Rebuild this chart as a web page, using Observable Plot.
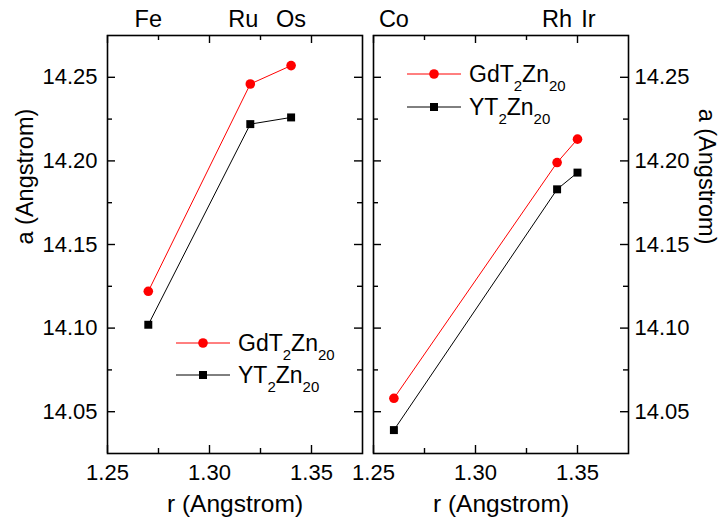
<!DOCTYPE html>
<html><head><meta charset="utf-8">
<script src="https://cdn.jsdelivr.net/npm/d3@7"></script>
<script src="https://cdn.jsdelivr.net/npm/@observablehq/plot@0.6"></script>
<style>
body{margin:0;background:#fff;}
#chart{position:relative;width:721px;height:525px;}
#chart svg{position:absolute;left:0;top:0;}
</style></head><body><div id="chart"></div>
<script>
// ---- data ----
const seriesNames = ["GdT2Zn20", "YT2Zn20"];
const seriesColors = ["#ff0000", "#000000"];
const seriesSymbols = ["circle", "square"];

const leftElements = ["Fe", "Ru", "Os"];
const leftR = [1.27, 1.32, 1.34];
const leftGd = [14.122, 14.246, 14.257];
const leftY = [14.102, 14.222, 14.226];

const rightElements = ["Co", "Rh", "Ir"];
const rightR = [1.26, 1.34, 1.35];
const rightGd = [14.058, 14.199, 14.213];
const rightY = [14.039, 14.183, 14.193];

const xMajorTicks = [1.25, 1.30, 1.35];
const xMinorTicks = [1.275, 1.325];
const yMajorTicks = [14.05, 14.10, 14.15, 14.20, 14.25];
const yMinorTicks = [14.075, 14.125, 14.175, 14.225];
const xDomain = [1.25, 1.375];
const yDomain = [14.025, 14.275];
const xTitle = "r (Angstrom)";
const yTitle = "a (Angstrom)";

const FONT = "Arial, 'Liberation Sans', sans-serif";
const fmt = d3.format(".2f");

function rows(elements, r, gd, y) {
  const out = [];
  elements.forEach((e, i) => out.push({element: e, r: r[i], a: gd[i], series: seriesNames[0]}));
  elements.forEach((e, i) => out.push({element: e, r: r[i], a: y[i], series: seriesNames[1]}));
  return out;
}

// inward ticks on all four sides: short rules positioned through Plot's x/y scales
function inwardTicks() {
  const out = [];
  const st = {stroke: "black", strokeWidth: 1.4};
  for (const [vals, len] of [[xMajorTicks, 8], [xMinorTicks, 5]]) {
    out.push(Plot.ruleX(vals, {...st, insetTop: 418 - len}));     // bottom edge
    out.push(Plot.ruleX(vals, {...st, insetBottom: 418 - len}));  // top edge
  }
  return out;
}
function inwardTicksY(frameW) {
  const out = [];
  const st = {stroke: "black", strokeWidth: 1.4};
  for (const [vals, len] of [[yMajorTicks, 8], [yMinorTicks, 5]]) {
    out.push(Plot.ruleY(vals, {...st, insetRight: frameW - len}));  // left edge
    out.push(Plot.ruleY(vals, {...st, insetLeft: frameW - len}));   // right edge
  }
  return out;
}

function legendMark(x0, y0, step) {
  return () => {
    const g = d3.create("svg:g");
    seriesNames.forEach((name, i) => {
      const y = y0 + i * step;
      const c = seriesColors[i];
      g.append("line").attr("x1", x0).attr("x2", x0 + 54).attr("y1", y).attr("y2", y)
        .attr("stroke", c).attr("stroke-width", 1);
      if (seriesSymbols[i] === "circle") {
        g.append("circle").attr("cx", x0 + 27).attr("cy", y).attr("r", 4.8).attr("fill", c);
      } else {
        g.append("rect").attr("x", x0 + 27 - 4).attr("y", y - 4).attr("width", 8).attr("height", 8).attr("fill", c);
      }
      const t = g.append("text").attr("x", x0 + 62).attr("y", y + 7.5)
        .attr("text-anchor", "start")
        .attr("font-size", 23).attr("font-family", FONT).attr("fill", "black");
      let sub = false;
      name.split(/(\d+)/).filter(s => s.length).forEach(part => {
        const isSub = /^\d+$/.test(part);
        const ts = t.append("tspan").text(part);
        if (isSub) ts.attr("font-size", 15);
        if (isSub && !sub) { ts.attr("dy", 9); sub = true; }
        else if (!isSub && sub) { ts.attr("dy", -9); sub = false; }
      });
    });
    return g.node();
  };
}

function panel(opts) {
  const data = rows(opts.elements, opts.r, opts.gd, opts.y);
  const labels = opts.elements.map((e, i) => ({element: e, r: opts.r[i]}));
  const labelSide = opts.labelSide;
  const frameW = 721 - opts.marginLeft - opts.marginRight;
  const marks = [
    Plot.axisX({anchor: "bottom", ticks: xMajorTicks, tickSize: 0, tickPadding: 11,
      tickFormat: fmt, label: null, fontSize: 22}),
    Plot.axisY({anchor: labelSide, ticks: yMajorTicks, tickSize: 0, tickPadding: opts.yPad,
      tickFormat: fmt, label: null, fontSize: 22}),
    ...inwardTicks(),
    ...inwardTicksY(frameW),
    Plot.frame({stroke: "black", strokeWidth: 1.6}),
    // data
    Plot.line(data, {x: "r", y: "a", z: "series", stroke: "series", strokeWidth: 1}),
    Plot.dot(data.filter(d => d.series === seriesNames[0]), {x: "r", y: "a", r: 4.8, fill: seriesColors[0], symbol: "circle"}),
    Plot.dot(data.filter(d => d.series === seriesNames[1]), {x: "r", y: "a", r: 4.5, fill: seriesColors[1], symbol: "square"}),
    // element labels on top
    Plot.text(labels, {x: "r", text: "element", frameAnchor: "top", lineAnchor: "middle", dy: -16, fontSize: 23.5,
      filter: d => !(d.element in opts.labelShift)}),
    ...Object.entries(opts.labelShift).map(([el, dx]) =>
      Plot.text(labels, {x: "r", text: "element", frameAnchor: "top", lineAnchor: "middle", dy: -16, dx, fontSize: 23.5,
        filter: d => d.element === el})),
    // axis titles
    Plot.text([xTitle], {frameAnchor: "bottom", lineAnchor: "middle", dy: 51, fontSize: 24.5}),
    Plot.text([yTitle], {frameAnchor: labelSide, lineAnchor: "middle", dx: opts.yTitleDx,
      rotate: labelSide === "left" ? -90 : 90, fontSize: 23.5}),
    legendMark(opts.legendX, opts.legendY, opts.legendStep)
  ];
  return Plot.plot({
    width: 721, height: 525,
    marginTop: 35, marginBottom: 72,
    marginLeft: opts.marginLeft, marginRight: opts.marginRight,
    x: {domain: xDomain},
    y: {domain: yDomain},
    color: {domain: seriesNames, range: seriesColors},
    style: {fontFamily: FONT, fontSize: "22px", background: "none", color: "black", overflow: "visible"},
    marks
  });
}

const left = panel({
  elements: leftElements, r: leftR, gd: leftGd, y: leftY,
  marginLeft: 107, marginRight: 721 - 362,
  labelSide: "left", yPad: 10, yTitleDx: -82,
  labelShift: {Ru: -7},
  legendX: 176, legendY: 343, legendStep: 32
});
const right = panel({
  elements: rightElements, r: rightR, gd: rightGd, y: rightY,
  marginLeft: 373, marginRight: 721 - 628,
  labelSide: "right", yPad: 6, yTitleDx: 78,
  labelShift: {Ir: 11},
  legendX: 407, legendY: 74, legendStep: 33
});
document.getElementById("chart").append(left, right);
</script>
</body></html>
